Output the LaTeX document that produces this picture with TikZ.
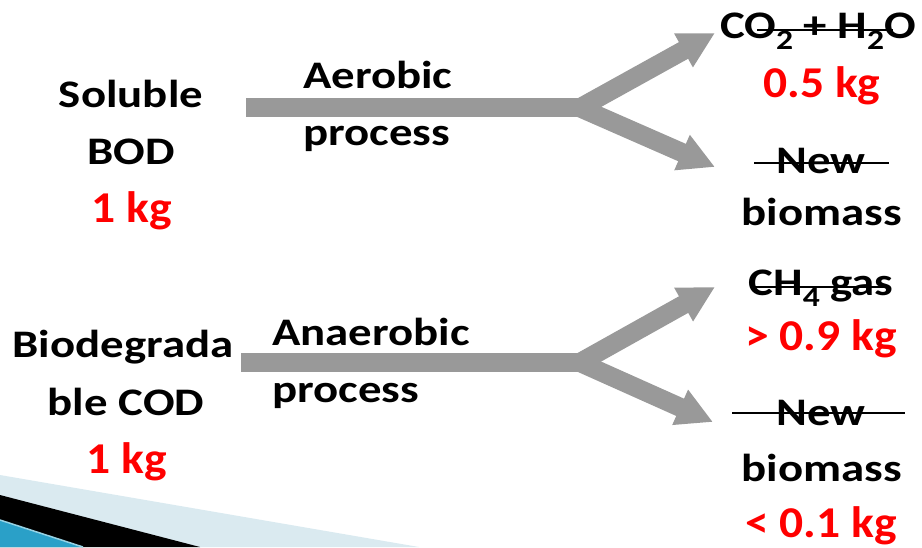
\documentclass[tikz,border=0pt]{standalone}
\usepackage{fontspec}
\usetikzlibrary{arrows.meta}
\newfontfamily\blkfont{Carlito}[FakeStretch=1.2]
\newfontfamily\redfont{Carlito}[FakeStretch=1.08]
\newcommand{\lowsub}[1]{\raisebox{-11pt}{\fontsize{28}{30}\selectfont #1}}
\definecolor{arrgray}{HTML}{999999}
\definecolor{lightband}{HTML}{DAEAF0}
\definecolor{blueband}{RGB}{42,160,200}
\definecolor{blueedge}{RGB}{150,210,228}
\tikzset{
  blk/.style={font=\blkfont\bfseries\fontsize{39}{47}\selectfont, anchor=base, inner sep=0pt},
  redtxt/.style={font=\redfont\bfseries\fontsize{44}{53}\selectfont, text=red, anchor=base, inner sep=0pt},
  bar/.style={draw=arrgray, line width=19pt},
  arm/.style={draw=arrgray, line width=19pt, -{Triangle[length=36pt,width=36pt]}},
  strike/.style={draw=black, line width=2.5pt}
}
\begin{document}
\begin{tikzpicture}[x=1pt,y=-1pt]
\useasboundingbox (0,0) rectangle (922,547);
% decoration bottom-left
\fill[lightband] (0,475) -- (419,547) -- (0,547) -- cycle;
\fill[black] (0,495) -- (200,547) -- (0,547) -- cycle;
\fill[blueband] (0,520) -- (83,547) -- (0,547) -- cycle;
\draw[blueedge, line width=1.5pt] (0,520) -- (83,547);

% left texts
\node[blk] (sol) at (131,107) {Soluble};
\node[blk] (bod) at (131,164) {BOD};
\node[redtxt] (kg1) at (132,222) {1 kg};
\node[blk] (bio) at (123,357) {Biodegrada};
\node[blk] (cod) at (126,415) {ble COD};
\node[redtxt] (kg2) at (127,473) {1 kg};

% process labels
\node[blk, anchor=base west] (aer) at (303,88) {Aerobic};
\node[blk, anchor=base west] (aerp) at (303,145) {process};
\node[blk, anchor=base west] (ana) at (272,345) {Anaerobic};
\node[blk, anchor=base west] (anap) at (272,402) {process};

% arrows top
\coordinate (s1) at (246,107.8);
\coordinate (e1) at (588,107.8);
\coordinate (b1) at (580,107.8);
\coordinate (t1) at (715,33);
\coordinate (u1) at (715,167);
\draw[bar] (s1) -- (e1);
\draw[arm] (b1) -- (t1);
\draw[arm] (b1) -- (u1);

% arrows bottom
\coordinate (s2) at (241,362.5);
\coordinate (e2) at (588,362.5);
\coordinate (b2) at (580,362.5);
\coordinate (t2) at (715,287);
\coordinate (u2) at (713,422);
\draw[bar] (s2) -- (e2);
\draw[arm] (b2) -- (t2);
\draw[arm] (b2) -- (u2);

% right texts
\node[blk] (co2) at (818,38) {CO\lowsub{2} + H\lowsub{2}O};
\node[redtxt] (kg05) at (822,97) {0.5 kg};
\node[blk] (new1) at (821,173) {New};
\node[blk] (bm1) at (822,225) {biomass};
\node[blk] (ch4) at (821,295) {CH\lowsub{4} gas};
\node[redtxt] (kg09) at (821,350) {> 0.9 kg};
\node[blk] (new2) at (821,425) {New};
\node[blk] (bm2) at (822,481) {biomass};
\node[redtxt] (kg01) at (821,537) {< 0.1 kg};

% strike lines
\draw[strike] (757,30) -- (893,30);
\draw[strike] (754,163) -- (889,163);
\draw[strike] (750,287) -- (885,287);
\draw[strike] (732,413) -- (905,413);
\end{tikzpicture}
\end{document}
